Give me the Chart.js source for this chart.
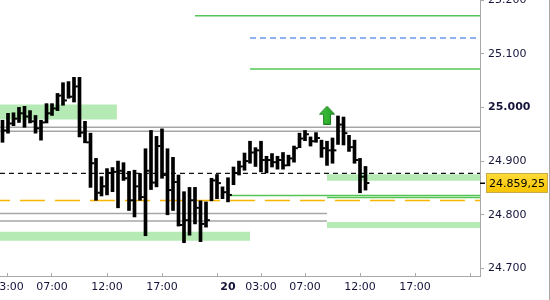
<!DOCTYPE html>
<html><head><meta charset="utf-8">
<script src="https://cdn.jsdelivr.net/npm/chart.js@4.4.1/dist/chart.umd.min.js"></script>
<style>
html,body{margin:0;padding:0;background:#fff;overflow:hidden}
#wrap{position:absolute;left:0;top:0;width:549px;height:300px;border-right:1px solid #a9a9a9}
canvas{display:block}
</style></head><body>
<div id="wrap"><canvas id="c" width="549" height="300"></canvas></div>
<script>
// ---- 30-minute OHLC bars (bar index on x) ----
const highs = [
  24976,24989,24990,25000,25002,24994,24985,24976,25007,25007,
  25026,25046,25048,25056,25056,24974,24952,24905,24871,24886,
  24888,24900,24897,24881,24883,24877,24923,24957,24946,24960,
  24923,24907,24874,24843,24851,24851,24826,24824,24868,24875,
  24852,24869,24889,24900,24915,24937,24925,24937,24909,24914,
  24909,24916,24911,24928,24952,24957,24945,24953,24939,24937,
  24943,24984,24982,24948,24939,24905,24890];
const lows = [
  24935,24952,24966,24972,24963,24971,24952,24939,24971,24985,
  24994,25004,25017,25010,24945,24934,24851,24827,24835,24837,
  24843,24813,24864,24808,24796,24827,24761,24847,24852,24868,
  24800,24808,24779,24748,24762,24783,24750,24777,24826,24830,
  24830,24824,24856,24874,24883,24896,24890,24880,24878,24889,
  24885,24885,24891,24898,24925,24938,24928,24935,24907,24892,
  24896,24931,24930,24918,24896,24841,24846];
const closes = [
  24957,24970,24979,24989,24983,24974,24961,24972,24989,24998,
  25022,25013,25020,25039,24953,24935,24896,24841,24853,24878,
  24880,24882,24868,24827,24853,24833,24882,24860,24928,24874,
  24846,24861,24781,24790,24827,24813,24783,24790,24864,24859,
  24842,24837,24878,24890,24900,24916,24920,24902,24902,24898,
  24902,24892,24905,24924,24942,24950,24937,24943,24924,24920,
  24920,24968,24952,24926,24902,24871,24859.25];
const lastPrice = 24859.25;

// ---- axis ticks ----
const xTickPositions = [1, 9, 19, 29, 39, 41, 47, 55, 65, 75, 85];
const xTickLabels = ['03:00','07:00','12:00','17:00','','20','03:00','07:00','12:00','17:00',''];
const dayMarkerTick = 41;
const yTickValues = [24700, 24800, 24900, 25000, 25100, 25200];

// ---- horizontal levels (price, from bar, to bar) ----
const levelPrices = [25170.5, 25129, 25071.6, 24963, 24955.5, 24877, 24836, 24832.3, 24826.7, 24802.6, 24788.3];
const levelFrom   = [35, 45, 45, -0.46, -0.46, -0.46, 40.8, 59, -0.46, -0.46, -0.46];
const levelTo     = [86.82, 86.82, 86.82, 86.82, 86.82, 86.82, 86.82, 86.82, 86.82, 59, 59];
const levelKinds  = ['green','blue','green','gray','gray','black','green','green','orange','gray','gray'];

// ---- zones (top, bottom, from bar, to bar) ----
const zoneTops    = [25005.4, 24875.6, 24768.5, 24786.5];
const zoneBottoms = [24977.4, 24863.3, 24751.8, 24775.4];
const zoneFrom    = [-0.46, 59, -0.46, 59];
const zoneTo      = [20.8, 86.82, 45, 86.82];

// ---- signal arrow ----
const arrowBar = 59;
const arrowPrice = 24985.5;

const X_MIN = -0.4545, X_MAX = 86.818;

const styles = {
  green:  {c:'#55c655', w:1.5, d:[]},
  blue:   {c:'#6a96ea', w:1.5, d:[6,4], off:0},
  gray:   {c:'#a6a6a6', w:1.5, d:[]},
  black:  {c:'#111111', w:1.3, d:[5,4], off:0},
  orange: {c:'#f9b500', w:1.5, d:[25,10], off:15}
};

function fmtDE(v, dec){
  const neg = v < 0; v = Math.abs(v);
  let s = v.toFixed(dec);
  let [ip, fp] = s.split('.');
  ip = ip.replace(/\B(?=(\d{3})+(?!\d))/g, '.');
  return (neg?'-':'') + ip + (fp ? ',' + fp : '');
}

// arrow image
const arrow = document.createElement('canvas');
arrow.width = 16; arrow.height = 19;
(function(){
  const a = arrow.getContext('2d');
  a.beginPath();
  a.moveTo(8, 0.5); a.lineTo(15.5, 8.5); a.lineTo(11.5, 8.5); a.lineTo(11.5, 18.5);
  a.lineTo(4.5, 18.5); a.lineTo(4.5, 8.5); a.lineTo(0.5, 8.5); a.closePath();
  const g = a.createLinearGradient(0,0,16,0);
  g.addColorStop(0,'#3fc43f'); g.addColorStop(1,'#26a026');
  a.fillStyle = g; a.fill();
  a.strokeStyle = '#1f7f1f'; a.lineWidth = 1; a.stroke();
})();

const datasets = [];
// zones
zoneTops.forEach((t, i) => {
  datasets.push({type:'line', order:20,
    data:[{x:zoneFrom[i], y:t},{x:zoneTo[i], y:t}],
    borderWidth:0, pointRadius:0, fill:{value: zoneBottoms[i]},
    backgroundColor:'#b5eab5', borderColor:'rgba(0,0,0,0)'});
});
// levels
levelPrices.forEach((p, i) => {
  const s = styles[levelKinds[i]];
  datasets.push({type:'line', order:10,
    data:[{x:levelFrom[i], y:p},{x:levelTo[i], y:p}],
    borderColor:s.c, borderWidth:s.w, borderDash:s.d, borderDashOffset:s.off||0,
    pointRadius:0, fill:false, tension:0});
});
// OHLC high-low bars
datasets.push({type:'bar', order:2,
  data: highs.map((h, i) => ({x:i, y:[lows[i], h]})),
  backgroundColor:'#000', borderWidth:0, barThickness:3, grouped:false});
// close ticks
datasets.push({type:'line', order:1, showLine:false,
  data: closes.map((c, i) => ({x:i + 0.47, y:c})),
  pointStyle:'line', pointRadius:1.3, pointBorderWidth:2, pointBorderColor:'#000',
  borderColor:'#000'});
// arrow
datasets.push({type:'line', order:0, showLine:false,
  data:[{x:arrowBar, y:arrowPrice}], pointStyle:arrow, pointRadius:9});

const priceTag = {
  id:'priceTag',
  afterDraw(chart){
    const ctx = chart.ctx, ys = chart.scales.y, ca = chart.chartArea;
    const y = Math.round(ys.getPixelForValue(lastPrice));
    ctx.save();
    ctx.strokeStyle = '#000'; ctx.lineWidth = 1.5;
    ctx.beginPath(); ctx.moveTo(ca.right, y + 0.25); ctx.lineTo(ca.right + 5, y + 0.25); ctx.stroke();
    const bx = ca.right + 6, bw = 62, bh = 20, by = y - 10;
    const g = ctx.createLinearGradient(0, by, 0, by + bh);
    g.addColorStop(0, '#ffdc3a'); g.addColorStop(1, '#f6c300');
    ctx.fillStyle = g; ctx.fillRect(bx, by, bw, bh);
    ctx.strokeStyle = '#c8ab4a'; ctx.lineWidth = 1; ctx.strokeRect(bx + 0.5, by + 0.5, bw - 1, bh - 1);
    ctx.fillStyle = '#000'; ctx.font = '11px "DejaVu Sans"';
    ctx.textBaseline = 'middle'; ctx.textAlign = 'left';
    ctx.fillText(fmtDE(lastPrice, 2), bx + 3, y + 1);
    ctx.restore();
  }
};

const axisColor = '#a8a8a8';
const textColor = '#14143a';

new Chart(document.getElementById('c'), {
  type:'bar',
  data:{datasets},
  plugins:[priceTag],
  options:{
    responsive:false, animation:false, events:[],
    layout:{padding:0, autoPadding:false},
    plugins:{legend:{display:false}, tooltip:{enabled:false}},
    scales:{
      x:{type:'linear', position:'bottom', min:X_MIN, max:X_MAX, offset:false,
        grid:{display:true, drawOnChartArea:false, drawTicks:true, tickLength:-3, offset:false,
          color:(c)=> (c.tick && c.tick.value === dayMarkerTick) ? 'rgba(0,0,0,0)' : axisColor, lineWidth:1},
        border:{display:true, color:axisColor, width:1},
        afterBuildTicks:(s)=>{ s.ticks = xTickPositions.map(v=>({value:v})); },
        afterFit:(s)=>{ s.height = 24; s.paddingLeft = 0; s.paddingRight = 0; },
        ticks:{autoSkip:false, maxRotation:0, minRotation:0, padding:8, color:textColor,
          font:(c)=>({family:'DejaVu Sans', size:11, weight:(c.tick && c.tick.value === dayMarkerTick) ? 'bold' : 'normal'}),
          callback:(v)=> xTickLabels[xTickPositions.indexOf(v)] }
      },
      y:{type:'linear', position:'right', min:24686, max:25200, beginAtZero:false,
        grid:{display:true, drawOnChartArea:false, drawTicks:true, tickLength:4, color:axisColor},
        border:{display:true, color:axisColor, width:1},
        afterBuildTicks:(s)=>{ s.ticks = yTickValues.map(v=>({value:v})); },
        afterFit:(s)=>{ s.width = 69; s.paddingTop = 0; s.paddingBottom = 0; },
        ticks:{autoSkip:false, padding:4, color:textColor,
          font:(c)=>({family:'DejaVu Sans', size:11, weight:(c.tick && c.tick.value % 1000 === 0) ? 'bold' : 'normal'}),
          callback:(v)=> fmtDE(v, 0) }
      }
    }
  }
});
</script>
</body></html>
